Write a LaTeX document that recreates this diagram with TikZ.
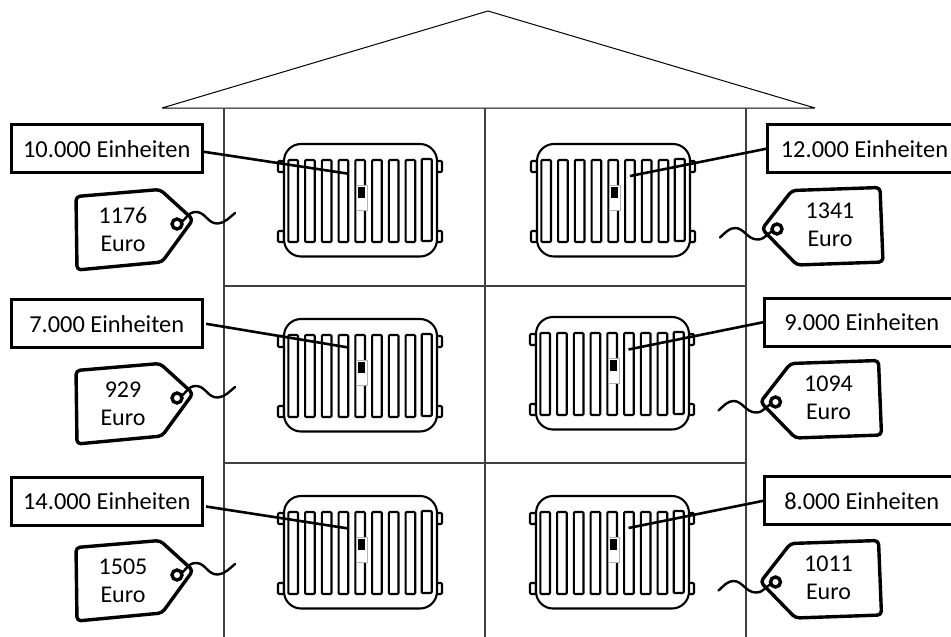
\documentclass[tikz,border=0pt]{standalone}
\usepackage{fontspec}
\setmainfont{Carlito}
\tikzset{
  x=1pt,y=-1pt,
  thinline/.style={draw=black!75,line width=1.2pt},
  roofline/.style={draw=black,line width=1pt,line join=bevel},
  unitbox/.style={draw=black,line width=3pt,fill=white,inner sep=0pt,anchor=north west,minimum height=48pt,font=\fontsize{24.4}{29}\selectfont,align=center},
  leader/.style={draw=black,line width=2.6pt},
  tagline/.style={draw=black,line width=3.4pt,line join=round,rounded corners=4pt},
  tagtext/.style={font=\fontsize{24}{28}\selectfont,align=center,inner sep=0pt},
  stringline/.style={draw=black,line width=2.4pt,line cap=round},
  rib/.style={draw=black,line width=2.1pt,rounded corners=1pt,fill=white},
  radbody/.style={draw=black,line width=2.1pt,rounded corners=17pt,fill=white},
}
\newcommand{\radiator}[2]{%
  \begin{scope}[shift={(#1pt,-#2pt)}]
    \foreach \lx in {-6,152}{\foreach \ly in {17,87}{\draw[rib] (\lx,\ly) rectangle ++(6,11);}}
    \draw[radbody] (0,0) rectangle (153,112.5);
    \foreach \i in {0,...,7}{\draw[rib] ({4.3+\i*16.75},16) rectangle ++(9.7,82);}
    \draw[rib] (137.7,15) rectangle ++(10,82);
    \draw[draw=black!30,line width=0.9pt,fill=white] (72,41) rectangle ++(11,25);
    \fill[black] (73.7,42.7) rectangle ++(7.5,10.8);
  \end{scope}}
\newcommand{\tagleft}[3]{%
  \begin{scope}[shift={(0pt,-#1pt)}]
    \draw[tagline,fill=white] (76,196.5) -- (160,189.5) -- (193,219.5) -- (162,262) -- (77,270) -- cycle;
    \draw[stringline] (177,224) .. controls (186,222) and (187,211) .. (197,212) .. controls (206,213) and (208,224) .. (218,223.5) .. controls (225,223) and (230,217) .. (235,213);
    \draw[black,line width=3.4pt,fill=white] (177,224) circle (5);
    \node[tagtext] (#2) at (123,229.5) {#3\\Euro};
  \end{scope}}
\newcommand{\tagright}[4]{%
  \begin{scope}[shift={(-#2pt,-#1pt)}]
    \draw[tagline,fill=white] (792,190.5) -- (880,187.5) -- (883,262) -- (797,265) -- (762,229) -- cycle;
    \draw[stringline] (777,229) .. controls (768,231) and (766,240) .. (757,239.5) .. controls (747,239) and (744,228) .. (735,228) .. controls (729,228) and (725,233) .. (720,237.5);
    \draw[black,line width=3.4pt,fill=white] (777,229) circle (5);
    \node[tagtext] (#3) at (830,225) {#4\\Euro};
  \end{scope}}
\begin{document}
\begin{tikzpicture}
\useasboundingbox (0,0) rectangle (951,637);
\fill[white] (0,0) rectangle (951,637);
% house
\coordinate (rl) at (162,108);
\coordinate (rt) at (488,11);
\coordinate (rr) at (815,108);
\draw[roofline] (rl) -- (rt) -- (rr) -- cycle;
\foreach \x in {224,485,746}{\draw[thinline] (\x,108) -- (\x,637);}
\draw[thinline] (224,286) -- (746,286);
\draw[thinline] (224,463) -- (746,463);
% radiators
\radiator{284}{144}
\radiator{284}{319}
\radiator{284}{496}
\radiator{537}{144}
\radiator{536}{317}
\radiator{536}{496}
\coordinate (ra-end) at (347,173.5);
\coordinate (rb-end) at (348.5,347.5);
\coordinate (rc-end) at (348.5,528.5);
\coordinate (rd-end) at (630,176);
\coordinate (re-end) at (628.5,349.5);
\coordinate (rf-end) at (628.5,528);
% boxes
\node[unitbox,minimum width=191.5pt] (ba) at (9.5,123.3) {10.000 Einheiten};
\node[unitbox,minimum width=191.5pt] (bb) at (9.5,298.3) {7.000 Einheiten};
\node[unitbox,minimum width=191.5pt] (bc) at (9.5,476) {14.000 Einheiten};
\node[unitbox,minimum width=194pt] (bd) at (766,123.3) {12.000 Einheiten};
\node[unitbox,minimum width=194pt] (be) at (763.3,296.7) {9.000 Einheiten};
\node[unitbox,minimum width=194pt] (bf) at (763.3,475.3) {8.000 Einheiten};
% leaders
\draw[leader] ([yshift=-3pt]ba.east) -- (ra-end);
\draw[leader] ([xshift=2pt]bb.east) -- (rb-end);
\draw[leader] ([xshift=2pt,yshift=-5pt]bc.east) -- (rc-end);
\draw[leader] (bd.west) -- (rd-end);
\draw[leader] (be.west) -- (re-end);
\draw[leader] (bf.west) -- (rf-end);
% tags
\tagleft{0}{ta}{1176}
\tagleft{174}{tb}{929}
\tagleft{351}{tc}{1505}
\tagright{0}{0}{td}{1341}
\tagright{173}{1.5}{te}{1094}
\tagright{353}{1.5}{tf}{1011}
\end{tikzpicture}
\end{document}
